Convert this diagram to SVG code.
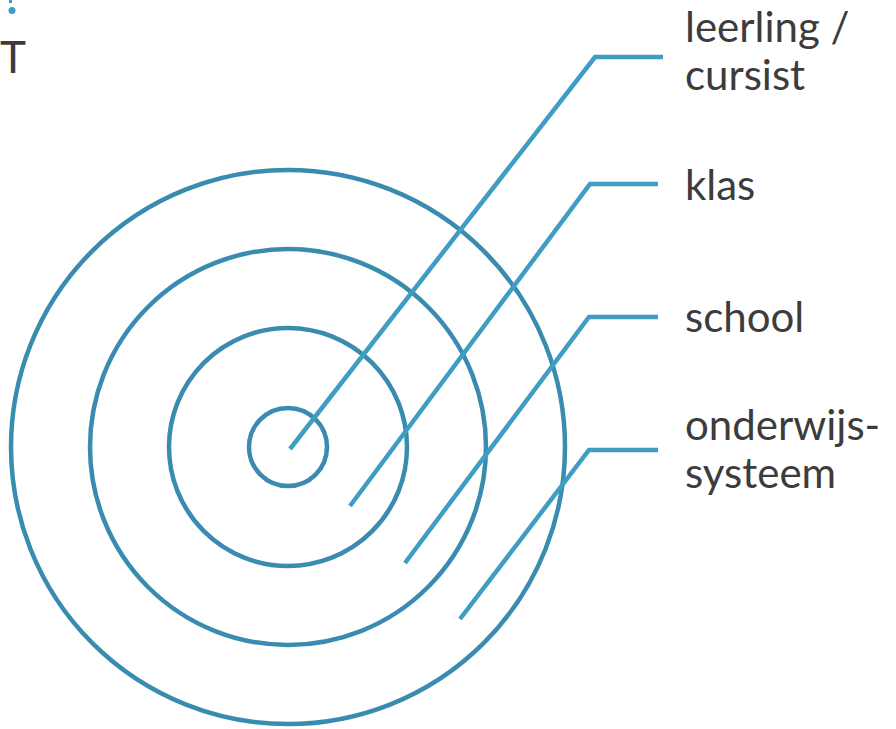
<svg xmlns="http://www.w3.org/2000/svg" width="896" height="729" viewBox="0 0 896 729">
<style>
.ring{fill:none;stroke:#3a8bb0;stroke-width:4.5}
.lead{fill:none;stroke:#3f9cc3;stroke-width:4.5;stroke-linejoin:miter}
.lbl{font-family:Lato,"Open Sans","Liberation Sans",sans-serif;font-size:42px;fill:#3c3c3c}
</style>
<rect width="896" height="729" fill="#fff"/>
<g id="corner">
<rect x="9" y="0" width="3" height="3" fill="#3f9cc3"/>
<circle cx="12" cy="10.5" r="3.5" fill="#3f9cc3"/>
<text x="0" y="73" class="lbl" style="font-size:44px">T</text>
</g>
<g id="rings">
<circle id="ring-outer" class="ring" cx="288" cy="447" r="277"/>
<circle id="ring-3" class="ring" cx="288" cy="447" r="198"/>
<circle id="ring-2" class="ring" cx="288" cy="447" r="119"/>
<circle id="ring-1" class="ring" cx="288" cy="447" r="39"/>
</g>
<g id="connectors">
<polyline class="lead" points="290,449 595,57 663,57"/>
<polyline class="lead" points="350,506 590,184 658,184"/>
<polyline class="lead" points="405,563 589,317 658,317"/>
<polyline class="lead" points="460,619 589,450 658,450"/>
</g>
<g id="label-leerling"><text class="lbl" x="685" y="42">leerling /</text><text class="lbl" x="685" y="90">cursist</text></g>
<g id="label-klas"><text class="lbl" x="685" y="200">klas</text></g>
<g id="label-school"><text class="lbl" x="685" y="332">school</text></g>
<g id="label-onderwijs"><text class="lbl" x="685" y="440">onderwijs-</text><text class="lbl" x="685" y="488">systeem</text></g>
</svg>
